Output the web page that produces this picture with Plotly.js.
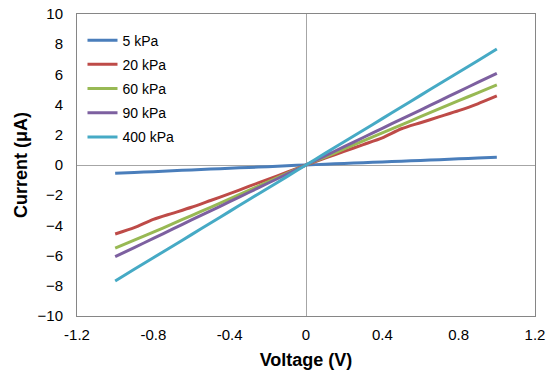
<!DOCTYPE html>
<html>
<head>
<meta charset="utf-8">
<script src="https://cdn.plot.ly/plotly-3.0.1.min.js"></script>
<style>html,body{margin:0;padding:0;background:#fff;}#chart{width:550px;height:380px;}</style>
</head>
<body>
<div id="chart"></div>
<script>
const voltage = [-1, -0.9, -0.8, -0.7, -0.6, -0.5, -0.4, -0.3, -0.2, -0.1, 0, 0.1, 0.2, 0.3, 0.4, 0.5, 0.6, 0.7, 0.8, 0.9, 1];
const seriesNames = ["5 kPa", "20 kPa", "60 kPa", "90 kPa", "400 kPa"];
const current5 = [-0.55, -0.5, -0.44, -0.38, -0.33, -0.27, -0.22, -0.16, -0.11, -0.05, 0, 0.05, 0.1, 0.15, 0.2, 0.25, 0.3, 0.35, 0.41, 0.46, 0.51];
const current20 = [-4.57, -4.15, -3.6, -3.2, -2.8, -2.35, -1.9, -1.42, -0.95, -0.48, 0, 0.45, 0.9, 1.35, 1.8, 2.4, 2.8, 3.2, 3.6, 4.05, 4.57];
const current60 = [-5.5, -4.98, -4.45, -3.9, -3.35, -2.8, -2.24, -1.68, -1.12, -0.56, 0, 0.53, 1.06, 1.6, 2.13, 2.66, 3.2, 3.73, 4.26, 4.78, 5.3];
const current90 = [-6.07, -5.47, -4.86, -4.25, -3.64, -3.04, -2.43, -1.82, -1.21, -0.61, 0, 0.61, 1.21, 1.82, 2.43, 3.04, 3.64, 4.25, 4.86, 5.47, 6.07];
const current400 = [-7.68, -6.91, -6.14, -5.38, -4.61, -3.84, -3.07, -2.3, -1.54, -0.77, 0, 0.77, 1.54, 2.3, 3.07, 3.84, 4.61, 5.38, 6.14, 6.91, 7.68];
const colors = ["#4A7EBB", "#BE4B48", "#98B954", "#7D60A0", "#46AAC5"];
const allCurrents = [current5, current20, current60, current90, current400];

const traces = allCurrents.map((c, i) => ({
  x: voltage, y: c, name: seriesNames[i], legendgroup: "g" + i, type: "scatter", mode: "lines",
  line: {color: colors[i], width: 3, shape: "spline", smoothing: 0.6}
}));

const layout = {
  width: 550, height: 380,
  margin: {l: 77, r: 15, t: 14, b: 64},
  paper_bgcolor: "#fff", plot_bgcolor: "#fff",
  font: {family: "Liberation Sans, Arial, sans-serif", size: 15, color: "#000"},
  showlegend: true,
  legend: {x: 0.012, y: 0.965, xanchor: "left", yanchor: "top", bgcolor: "rgba(0,0,0,0)",
    font: {size: 14, color: "#000"}, tracegroupgap: 3, itemwidth: 30},
  xaxis: {
    range: [-1.2, 1.2], tickvals: [-1.2, -0.8, -0.4, 0, 0.4, 0.8, 1.2],
    ticktext: ["-1.2", "-0.8", "-0.4", "0", "0.4", "0.8", "1.2"],
    showgrid: false, zeroline: true, zerolinecolor: "#A6A6A6", zerolinewidth: 1,
    showline: true, linecolor: "#868686", linewidth: 1, mirror: true,
    ticks: "", ticklen: 0, tickfont: {size: 15}, ticklabelstandoff: 5,
    title: {text: "<b>Voltage (V)</b>", font: {size: 18}, standoff: 11}
  },
  yaxis: {
    range: [-10, 10], tickvals: [-10, -8, -6, -4, -2, 0, 2, 4, 6, 8, 10],
    showgrid: false, zeroline: true, zerolinecolor: "#A6A6A6", zerolinewidth: 1,
    showline: true, linecolor: "#868686", linewidth: 1, mirror: true,
    ticks: "", tickfont: {size: 15}, ticklabelstandoff: 10,
    title: {text: "<b>Current (μA)</b>", font: {size: 18}, standoff: 5}
  }
};

Plotly.newPlot("chart", traces, layout, {displayModeBar: false, staticPlot: true});
</script>
</body>
</html>
